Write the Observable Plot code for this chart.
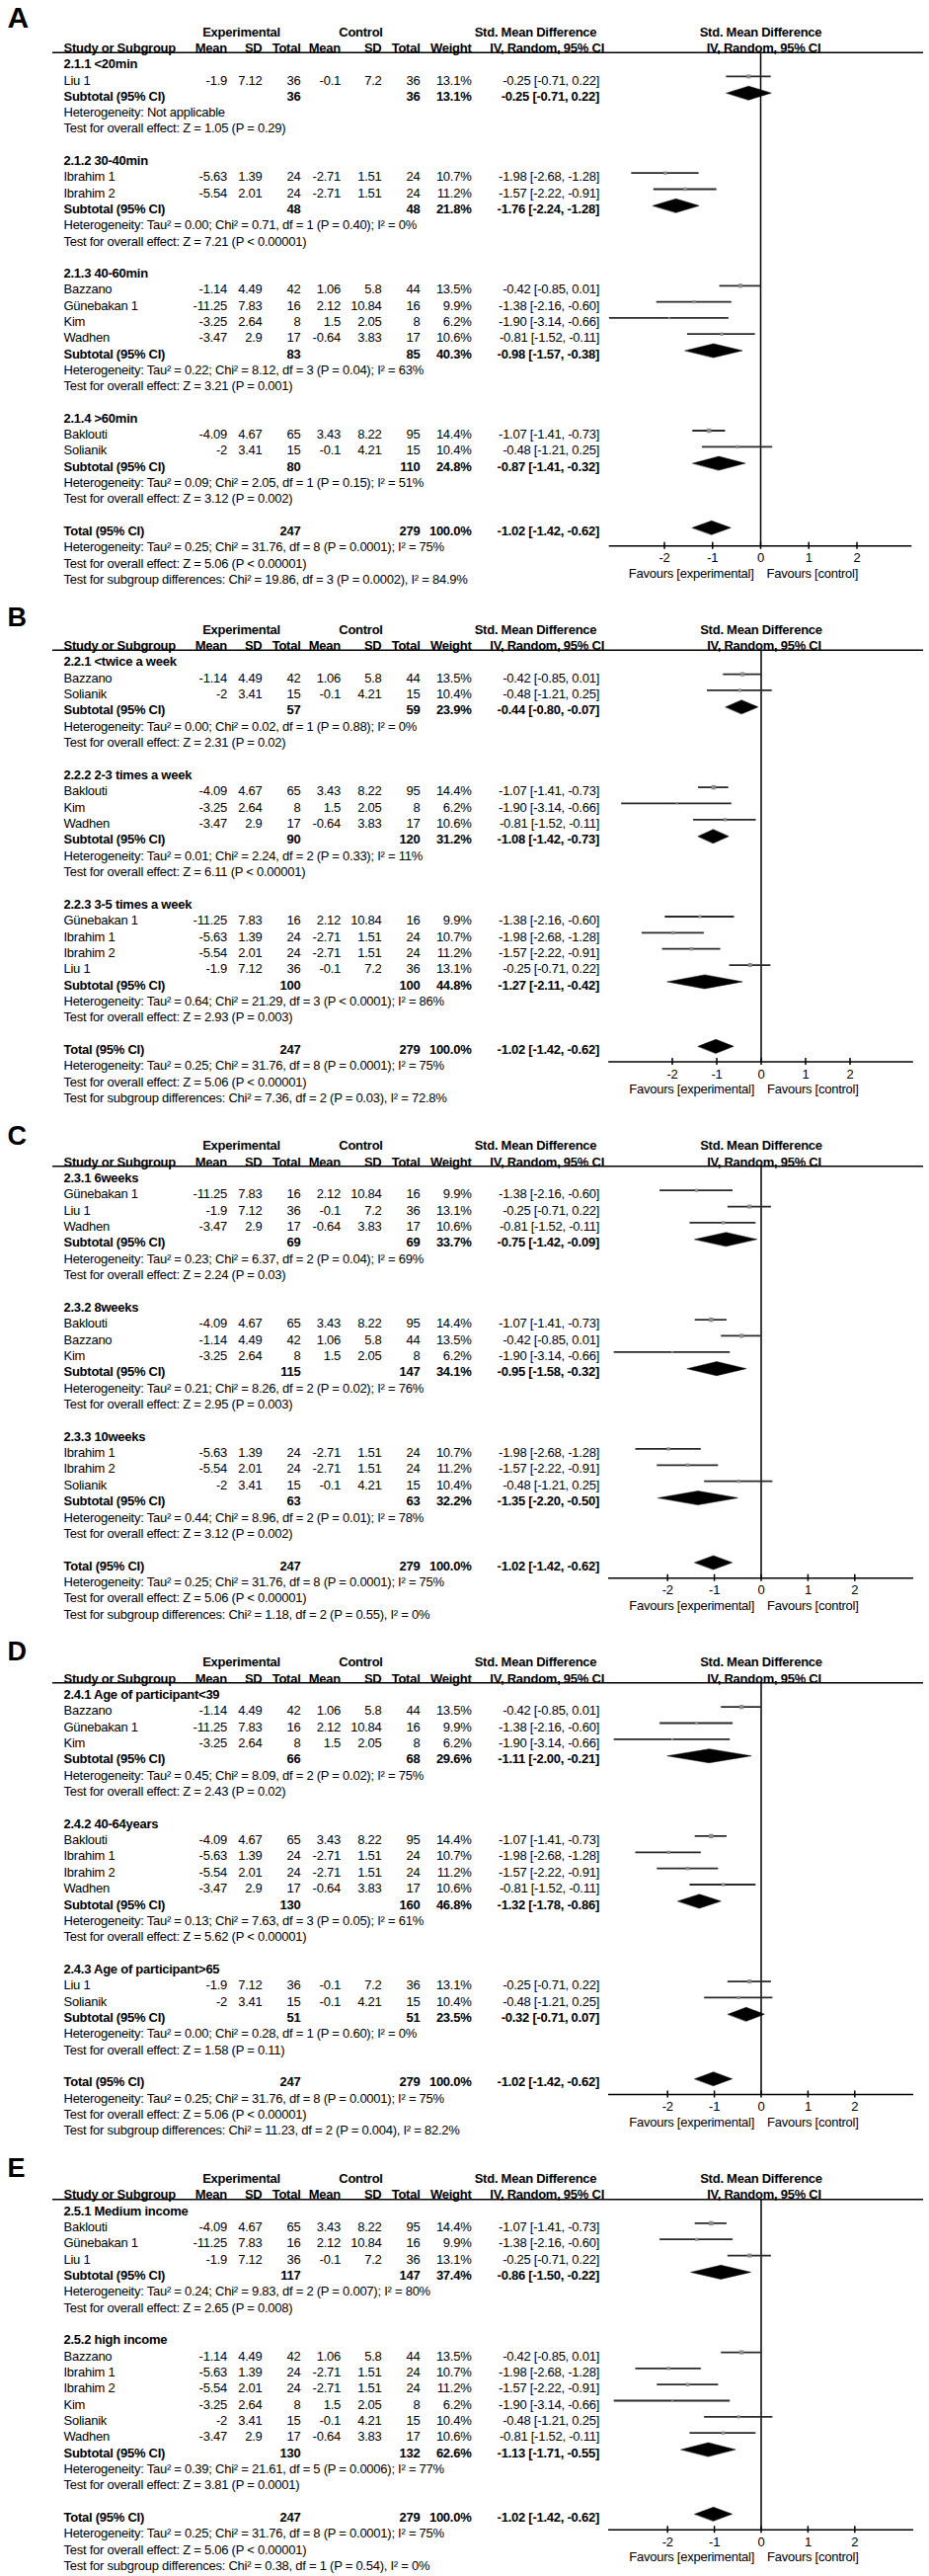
<!DOCTYPE html>
<html><head><meta charset="utf-8">
<script src="https://cdn.jsdelivr.net/npm/d3@7"></script>
<script src="https://cdn.jsdelivr.net/npm/@observablehq/plot@0.6"></script>
<style>
body{margin:0;background:#fff;}
#chart{width:941px;}
#chart svg{display:block;max-width:none;}
</style></head><body><div id="chart"></div>
<script>
// ---------- study-level data ----------
const studyNames = ["Baklouti","Bazzano","Günebakan 1","Ibrahim 1","Ibrahim 2","Kim","Liu 1","Solianik","Wadhen"];
const expMean  = [-4.09,-1.14,-11.25,-5.63,-5.54,-3.25,-1.9,-2,-3.47];
const expSD    = [4.67,4.49,7.83,1.39,2.01,2.64,7.12,3.41,2.9];
const expTotal = [65,42,16,24,24,8,36,15,17];
const ctlMean  = [3.43,1.06,2.12,-2.71,-2.71,1.5,-0.1,-0.1,-0.64];
const ctlSD    = [8.22,5.8,10.84,1.51,1.51,2.05,7.2,4.21,3.83];
const ctlTotal = [95,44,16,24,24,8,36,15,17];
const weights  = [14.4,13.5,9.9,10.7,11.2,6.2,13.1,10.4,10.6];
const smd      = [-1.07,-0.42,-1.38,-1.98,-1.57,-1.90,-0.25,-0.48,-0.81];
const smdLo    = [-1.41,-0.85,-2.16,-2.68,-2.22,-3.14,-0.71,-1.21,-1.52];
const smdHi    = [-0.73,0.01,-0.60,-1.28,-0.91,-0.66,0.22,0.25,-0.11];

// ---------- overall ----------
const totalExp = 247, totalCtl = 279, totalWeight = 100.0;
const totalSmd = -1.02, totalLo = -1.42, totalHi = -0.62;
const totalHet = "Heterogeneity: Tau² = 0.25; Chi² = 31.76, df = 8 (P = 0.0001); I² = 75%";
const totalZ = "Test for overall effect: Z = 5.06 (P < 0.00001)";

// ---------- Panel A ----------
const groupsA = ["2.1.1 <20min","2.1.2 30-40min","2.1.3 40-60min","2.1.4 >60min"];
const membersA = [["Liu 1"],["Ibrahim 1","Ibrahim 2"],["Bazzano","Günebakan 1","Kim","Wadhen"],["Baklouti","Solianik"]];
const subExpA = [36,48,83,80];
const subCtlA = [36,48,85,110];
const subWeightA = [13.1,21.8,40.3,24.8];
const subSmdA = [-0.25,-1.76,-0.98,-0.87];
const subLoA = [-0.71,-2.24,-1.57,-1.41];
const subHiA = [0.22,-1.28,-0.38,-0.32];
const hetA = ["Heterogeneity: Not applicable",
  "Heterogeneity: Tau² = 0.00; Chi² = 0.71, df = 1 (P = 0.40); I² = 0%",
  "Heterogeneity: Tau² = 0.22; Chi² = 8.12, df = 3 (P = 0.04); I² = 63%",
  "Heterogeneity: Tau² = 0.09; Chi² = 2.05, df = 1 (P = 0.15); I² = 51%"];
const zA = ["Test for overall effect: Z = 1.05 (P = 0.29)",
  "Test for overall effect: Z = 7.21 (P < 0.00001)",
  "Test for overall effect: Z = 3.21 (P = 0.001)",
  "Test for overall effect: Z = 3.12 (P = 0.002)"];
const subTestA = "Test for subgroup differences: Chi² = 19.86, df = 3 (P = 0.0002), I² = 84.9%";

// ---------- Panel B ----------
const groupsB = ["2.2.1 <twice a week","2.2.2 2-3 times a week","2.2.3 3-5 times a week"];
const membersB = [["Bazzano","Solianik"],["Baklouti","Kim","Wadhen"],["Günebakan 1","Ibrahim 1","Ibrahim 2","Liu 1"]];
const subExpB = [57,90,100];
const subCtlB = [59,120,100];
const subWeightB = [23.9,31.2,44.8];
const subSmdB = [-0.44,-1.08,-1.27];
const subLoB = [-0.80,-1.42,-2.11];
const subHiB = [-0.07,-0.73,-0.42];
const hetB = ["Heterogeneity: Tau² = 0.00; Chi² = 0.02, df = 1 (P = 0.88); I² = 0%",
  "Heterogeneity: Tau² = 0.01; Chi² = 2.24, df = 2 (P = 0.33); I² = 11%",
  "Heterogeneity: Tau² = 0.64; Chi² = 21.29, df = 3 (P < 0.0001); I² = 86%"];
const zB = ["Test for overall effect: Z = 2.31 (P = 0.02)",
  "Test for overall effect: Z = 6.11 (P < 0.00001)",
  "Test for overall effect: Z = 2.93 (P = 0.003)"];
const subTestB = "Test for subgroup differences: Chi² = 7.36, df = 2 (P = 0.03), I² = 72.8%";

// ---------- Panel C ----------
const groupsC = ["2.3.1 6weeks","2.3.2 8weeks","2.3.3 10weeks"];
const membersC = [["Günebakan 1","Liu 1","Wadhen"],["Baklouti","Bazzano","Kim"],["Ibrahim 1","Ibrahim 2","Solianik"]];
const subExpC = [69,115,63];
const subCtlC = [69,147,63];
const subWeightC = [33.7,34.1,32.2];
const subSmdC = [-0.75,-0.95,-1.35];
const subLoC = [-1.42,-1.58,-2.20];
const subHiC = [-0.09,-0.32,-0.50];
const hetC = ["Heterogeneity: Tau² = 0.23; Chi² = 6.37, df = 2 (P = 0.04); I² = 69%",
  "Heterogeneity: Tau² = 0.21; Chi² = 8.26, df = 2 (P = 0.02); I² = 76%",
  "Heterogeneity: Tau² = 0.44; Chi² = 8.96, df = 2 (P = 0.01); I² = 78%"];
const zC = ["Test for overall effect: Z = 2.24 (P = 0.03)",
  "Test for overall effect: Z = 2.95 (P = 0.003)",
  "Test for overall effect: Z = 3.12 (P = 0.002)"];
const subTestC = "Test for subgroup differences: Chi² = 1.18, df = 2 (P = 0.55), I² = 0%";

// ---------- Panel D ----------
const groupsD = ["2.4.1 Age of participant<39","2.4.2 40-64years","2.4.3 Age of participant>65"];
const membersD = [["Bazzano","Günebakan 1","Kim"],["Baklouti","Ibrahim 1","Ibrahim 2","Wadhen"],["Liu 1","Solianik"]];
const subExpD = [66,130,51];
const subCtlD = [68,160,51];
const subWeightD = [29.6,46.8,23.5];
const subSmdD = [-1.11,-1.32,-0.32];
const subLoD = [-2.00,-1.78,-0.71];
const subHiD = [-0.21,-0.86,0.07];
const hetD = ["Heterogeneity: Tau² = 0.45; Chi² = 8.09, df = 2 (P = 0.02); I² = 75%",
  "Heterogeneity: Tau² = 0.13; Chi² = 7.63, df = 3 (P = 0.05); I² = 61%",
  "Heterogeneity: Tau² = 0.00; Chi² = 0.28, df = 1 (P = 0.60); I² = 0%"];
const zD = ["Test for overall effect: Z = 2.43 (P = 0.02)",
  "Test for overall effect: Z = 5.62 (P < 0.00001)",
  "Test for overall effect: Z = 1.58 (P = 0.11)"];
const subTestD = "Test for subgroup differences: Chi² = 11.23, df = 2 (P = 0.004), I² = 82.2%";

// ---------- Panel E ----------
const groupsE = ["2.5.1 Medium income","2.5.2 high income"];
const membersE = [["Baklouti","Günebakan 1","Liu 1"],["Bazzano","Ibrahim 1","Ibrahim 2","Kim","Solianik","Wadhen"]];
const subExpE = [117,130];
const subCtlE = [147,132];
const subWeightE = [37.4,62.6];
const subSmdE = [-0.86,-1.13];
const subLoE = [-1.50,-1.71];
const subHiE = [-0.22,-0.55];
const hetE = ["Heterogeneity: Tau² = 0.24; Chi² = 9.83, df = 2 (P = 0.007); I² = 80%",
  "Heterogeneity: Tau² = 0.39; Chi² = 21.61, df = 5 (P = 0.0006); I² = 77%"];
const zE = ["Test for overall effect: Z = 2.65 (P = 0.008)",
  "Test for overall effect: Z = 3.81 (P = 0.0001)"];
const subTestE = "Test for subgroup differences: Chi² = 0.38, df = 1 (P = 0.54), I² = 0%";

// ---------- labels ----------
const panelLetters = ["A","B","C","D","E"];
const headerTop = ["Experimental","Control","Std. Mean Difference","Std. Mean Difference"];
const headerBottom = ["Study or Subgroup","Mean","SD","Total","Mean","SD","Total","Weight","IV, Random, 95% CI","IV, Random, 95% CI"];
const axisTicks = [-2,-1,0,1,2];
const favourLabels = ["Favours [experimental]","Favours [control]"];

// ---------- layout (pixels, base = row 0 inside each panel svg) ----------
const layout = [
  {height:600, base:32,   rowH:16.3,  zero:770,   unit:48.75, ext:3.145, axisOff:15,   letterRow:-0.86, letterSize:30},
  {height:528, base:37,   rowH:16.36, zero:770.5, unit:45,    ext:3.43,  axisOff:12.2, letterRow:-0.73, letterSize:27},
  {height:522, base:31.6, rowH:16.36, zero:770.5, unit:47.4,  ext:3.26,  axisOff:12.2, letterRow:-0.62, letterSize:27},
  {height:522, base:32.6, rowH:16.35, zero:770.5, unit:47.4,  ext:3.26,  axisOff:12.3, letterRow:-0.67, letterSize:27},
  {height:436, base:33.4, rowH:16.33, zero:770.5, unit:47.4,  ext:3.26,  axisOff:12.4, letterRow:-0.64, letterSize:27}
];
const headerTopPos = [[244,"middle"],[365,"middle"],[542,"middle"]];
const headerBottomPos = [[64,"start"],[229.5,"end"],[265,"end"],[304,"end"],[344.5,"end"],[386,"end"],[425,"end"],[477,"end"],[611.5,"end"]];
const colPos = {name:64, em:229.5, esd:265, en:304, cm:344.5, csd:386, cn:425, w:477, ci:606.5};

const panels = [
  {groups:groupsA, members:membersA, subExp:subExpA, subCtl:subCtlA, subW:subWeightA, subSmd:subSmdA, subLo:subLoA, subHi:subHiA, het:hetA, z:zA, subTest:subTestA},
  {groups:groupsB, members:membersB, subExp:subExpB, subCtl:subCtlB, subW:subWeightB, subSmd:subSmdB, subLo:subLoB, subHi:subHiB, het:hetB, z:zB, subTest:subTestB},
  {groups:groupsC, members:membersC, subExp:subExpC, subCtl:subCtlC, subW:subWeightC, subSmd:subSmdC, subLo:subLoC, subHi:subHiC, het:hetC, z:zC, subTest:subTestC},
  {groups:groupsD, members:membersD, subExp:subExpD, subCtl:subCtlD, subW:subWeightD, subSmd:subSmdD, subLo:subLoD, subHi:subHiD, het:hetD, z:zD, subTest:subTestD},
  {groups:groupsE, members:membersE, subExp:subExpE, subCtl:subCtlE, subW:subWeightE, subSmd:subSmdE, subLo:subLoE, subHi:subHiE, het:hetE, z:zE, subTest:subTestE}
];

function buildRows(p) {
  const rows = [];
  let r = 2;
  p.groups.forEach((g, gi) => {
    rows.push({r: r++, kind: "group", label: g});
    p.members[gi].forEach(name => {
      const i = studyNames.indexOf(name);
      rows.push({r: r++, kind: "study", label: name, em: expMean[i], esd: expSD[i], en: expTotal[i],
        cm: ctlMean[i], csd: ctlSD[i], cn: ctlTotal[i], w: weights[i], est: smd[i], lo: smdLo[i], hi: smdHi[i]});
    });
    rows.push({r: r++, kind: "sub", label: "Subtotal (95% CI)", en: p.subExp[gi], cn: p.subCtl[gi],
      w: p.subW[gi], est: p.subSmd[gi], lo: p.subLo[gi], hi: p.subHi[gi]});
    rows.push({r: r++, kind: "note", label: p.het[gi]});
    rows.push({r: r++, kind: "note", label: p.z[gi]});
    r++;
  });
  rows.push({r: r++, kind: "total", label: "Total (95% CI)", en: totalExp, cn: totalCtl, w: totalWeight,
    est: totalSmd, lo: totalLo, hi: totalHi});
  rows.push({r: r++, kind: "note", label: totalHet});
  rows.push({r: r++, kind: "note", label: totalZ});
  rows.push({r: r++, kind: "note", label: p.subTest});
  return rows;
}

const fmtCI = d => `${d.est.toFixed(2)} [${d.lo.toFixed(2)}, ${d.hi.toFixed(2)}]`;
const fmtW = d => d.w.toFixed(1) + "%";

const chart = document.getElementById("chart");
panels.forEach((p, k) => {
  const L = layout[k];
  const rows = buildRows(p);
  const totalRow = rows.find(d => d.kind === "total").r;
  const axisRow = totalRow + L.axisOff / L.rowH;
  const underRow = 1 + 4.4 / L.rowH;
  const studyRows = rows.filter(d => d.kind === "study");
  const sumRows = rows.filter(d => d.kind === "sub" || d.kind === "total");
  const boldLabels = rows.filter(d => d.kind === "group" || d.kind === "sub" || d.kind === "total");
  const plainLabels = rows.filter(d => d.kind === "study" || d.kind === "note");
  const diamonds = sumRows.flatMap((d, i) => [
    {id: i, x: d.lo, y: d.r}, {id: i, x: d.est, y: d.r - 0.43},
    {id: i, x: d.hi, y: d.r}, {id: i, x: d.est, y: d.r + 0.43}]);

  const T = (data, text, pos, anchor, bold) => Plot.text(data, {
    y: "r", text, frameAnchor: "left", dx: pos, textAnchor: anchor,
    fontWeight: bold ? "bold" : "normal", fill: "black"});

  const marks = [
    Plot.text([panelLetters[k]], {text: d => d, y: () => L.letterRow, frameAnchor: "left", dx: 7,
      textAnchor: "start", fontSize: L.letterSize, fontWeight: "bold", fill: "black"}),
    ...headerTopPos.map(([pos, anchor], i) => Plot.text([headerTop[i]], {text: d => d, y: () => 0,
      frameAnchor: "left", dx: pos, textAnchor: anchor, fontWeight: "bold", fill: "black"})),
    Plot.text([headerTop[3]], {text: d => d, x: () => 0, y: () => 0, fontWeight: "bold", fill: "black"}),
    ...headerBottomPos.map(([pos, anchor], i) => Plot.text([headerBottom[i]], {text: d => d, y: () => 1,
      frameAnchor: "left", dx: pos, textAnchor: anchor, fontWeight: "bold", fill: "black"})),
    Plot.text([headerBottom[9]], {text: d => d, x: () => 0, dx: 3, y: () => 1, fontWeight: "bold", fill: "black"}),
    Plot.ruleY([underRow], {y: d => d, insetLeft: 53, insetRight: 6, stroke: "black", strokeWidth: 1.5}),
    T(boldLabels, "label", colPos.name, "start", true),
    T(plainLabels, "label", colPos.name, "start", false),
    T(studyRows, d => String(d.em), colPos.em, "end", false),
    T(studyRows, d => String(d.esd), colPos.esd, "end", false),
    T(studyRows, d => String(d.en), colPos.en, "end", false),
    T(studyRows, d => String(d.cm), colPos.cm, "end", false),
    T(studyRows, d => String(d.csd), colPos.csd, "end", false),
    T(studyRows, d => String(d.cn), colPos.cn, "end", false),
    T(studyRows, fmtW, colPos.w, "end", false),
    T(studyRows, fmtCI, colPos.ci, "end", false),
    T(sumRows, d => String(d.en), colPos.en, "end", true),
    T(sumRows, d => String(d.cn), colPos.cn, "end", true),
    T(sumRows, fmtW, colPos.w, "end", true),
    T(sumRows, fmtCI, colPos.ci, "end", true),
    Plot.ruleX([0], {x: d => d, y1: () => underRow, y2: () => axisRow, stroke: "black", strokeWidth: 1.5}),
    Plot.ruleY(studyRows, {y: "r", x1: "lo", x2: "hi", dy: -4, stroke: "#2a2a2a", strokeWidth: 1.8}),
    Plot.dot(studyRows, {x: "est", y: "r", r: "w", symbol: "square", fill: "#8c8c8c", dy: -4}),
    Plot.line(diamonds, {x: "x", y: "y", z: "id", fill: "black", stroke: "black", strokeWidth: 0.5,
      curve: "linear-closed", dy: -3.5}),
    Plot.ruleY([axisRow], {y: d => d, x1: () => -L.ext, x2: () => L.ext, stroke: "black", strokeWidth: 1.5}),
    Plot.ruleX(axisTicks, {x: d => d, y1: () => axisRow - 3.5 / L.rowH, y2: () => axisRow + 3.5 / L.rowH,
      stroke: "black", strokeWidth: 1.5}),
    Plot.text(axisTicks, {x: d => d, y: () => axisRow + 12.5 / L.rowH, text: d => String(d), fill: "black"}),
    Plot.text([favourLabels[0]], {text: d => d, x: () => 0, dx: -7, y: () => axisRow + 28 / L.rowH,
      textAnchor: "end", fill: "black"}),
    Plot.text([favourLabels[1]], {text: d => d, x: () => 0, dx: 6, y: () => axisRow + 28 / L.rowH,
      textAnchor: "start", fill: "black"})
  ];

  const svg = Plot.plot({
    width: 941, height: L.height,
    marginLeft: 0, marginRight: 0, marginTop: 0, marginBottom: 0,
    style: {fontFamily: "'Liberation Sans', Arial, sans-serif", fontSize: "13px", letterSpacing: "-0.25px",
      background: "white", overflow: "visible", color: "black"},
    x: {axis: null, type: "linear", domain: [-L.zero / L.unit, (941 - L.zero) / L.unit], range: [0, 941]},
    y: {axis: null, type: "linear", domain: [0, 1], range: [L.base, L.base + L.rowH]},
    r: {type: "linear", domain: [0, 15], range: [0, 2.6]},
    marks
  });
  chart.appendChild(svg);
});
</script></body></html>
